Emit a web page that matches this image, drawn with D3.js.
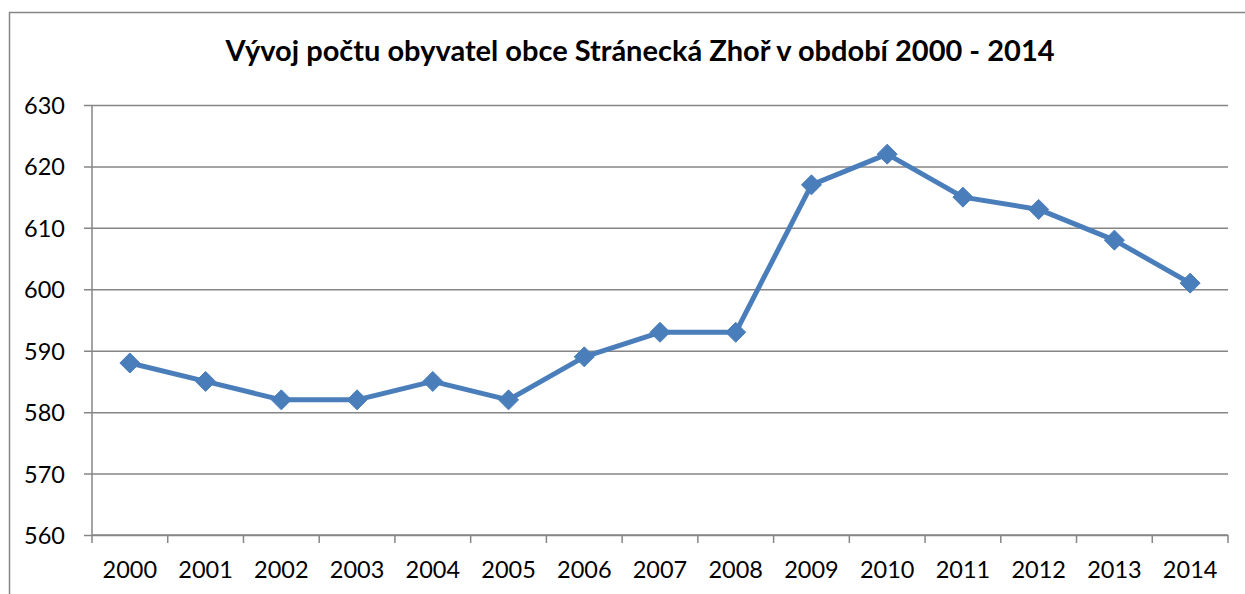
<!DOCTYPE html>
<html><head><meta charset="utf-8">
<script src="https://cdn.jsdelivr.net/npm/d3@7"></script>
<style>body{margin:0;background:#fff}svg{display:block}</style>
</head><body>
<script>
const years = ["2000","2001","2002","2003","2004","2005","2006","2007","2008","2009","2010","2011","2012","2013","2014"];
const population = [588,585,582,582,585,582,589,593,593,617,622,615,613,608,601];
const yTicks = [560,570,580,590,600,610,620,630];
const title = "Vývoj počtu obyvatel obce Stránecká Zhoř v období 2000 - 2014";

const W = 1245, H = 594;
const m = {left: 92, right: 1228, top: 105, bottom: 535};
const font = "Lato, 'Open Sans', sans-serif";
const svg = d3.select("body").append("svg").attr("width", W).attr("height", H);

// chart border
svg.append("rect").attr("x", 9.5).attr("y", 12.5).attr("width", 1300).attr("height", 700)
  .attr("fill", "none").attr("stroke", "#868686").attr("stroke-width", 1.5);

svg.append("text").attr("x", 640).attr("y", 61).attr("text-anchor", "middle")
  .attr("font-family", font).attr("font-weight", "bold").attr("font-size", 29)
  .attr("fill", "#000").text(title);

const x = d3.scaleBand().domain(years).range([m.left, m.right]);
const y = d3.scaleLinear().domain([560, 630]).range([m.bottom, m.top]);

// gridlines + y axis
const yAxis = d3.axisLeft(y).tickValues(yTicks).tickSize(8).tickPadding(19);
const gy = svg.append("g").attr("transform", `translate(${m.left},0)`).call(yAxis);
gy.selectAll(".tick line").attr("stroke", "#868686").attr("stroke-width", 1.5)
  .attr("x2", m.right - m.left).attr("x1", -8);
gy.select(".domain").attr("stroke", "#868686").attr("stroke-width", 1.5).attr("d", `M0,${m.top}V${m.bottom}`);
gy.selectAll("text").attr("font-family", font).attr("font-size", 23.5).attr("fill", "#000").attr("dy", "0.36em");

// x axis
const xAxis = d3.axisBottom(x).tickSize(0).tickPadding(26);
const gx = svg.append("g").attr("transform", `translate(0,${m.bottom})`).call(xAxis);
gx.select(".domain").attr("stroke", "#868686").attr("stroke-width", 1.5).attr("d", `M${m.left},0H${m.right}`);
gx.selectAll("text").attr("font-family", font).attr("font-size", 23.5).attr("fill", "#000");
const bounds = years.map(d => x(d)).concat([x(years[years.length-1]) + x.bandwidth()]);
gx.selectAll("line.bt").data(bounds).join("line").attr("class", "bt")
  .attr("x1", d => d).attr("x2", d => d).attr("y1", 0).attr("y2", 8)
  .attr("stroke", "#868686").attr("stroke-width", 1.5);

const cx = d => x(d) + x.bandwidth() / 2;
const pts = years.map((d, i) => [cx(d), y(population[i])]);
svg.append("path").attr("d", d3.line()(pts)).attr("fill", "none")
  .attr("stroke", "#4a7ebb").attr("stroke-width", 5).attr("stroke-linejoin", "round");
svg.selectAll("path.mk").data(pts).join("path").attr("class", "mk")
  .attr("d", d => `M${d[0]},${d[1]-10}L${d[0]+10},${d[1]}L${d[0]},${d[1]+10}L${d[0]-10},${d[1]}Z`)
  .attr("fill", "#4a7ebb").attr("stroke", "#4a7ebb").attr("stroke-width", 1);
</script>
</body></html>
